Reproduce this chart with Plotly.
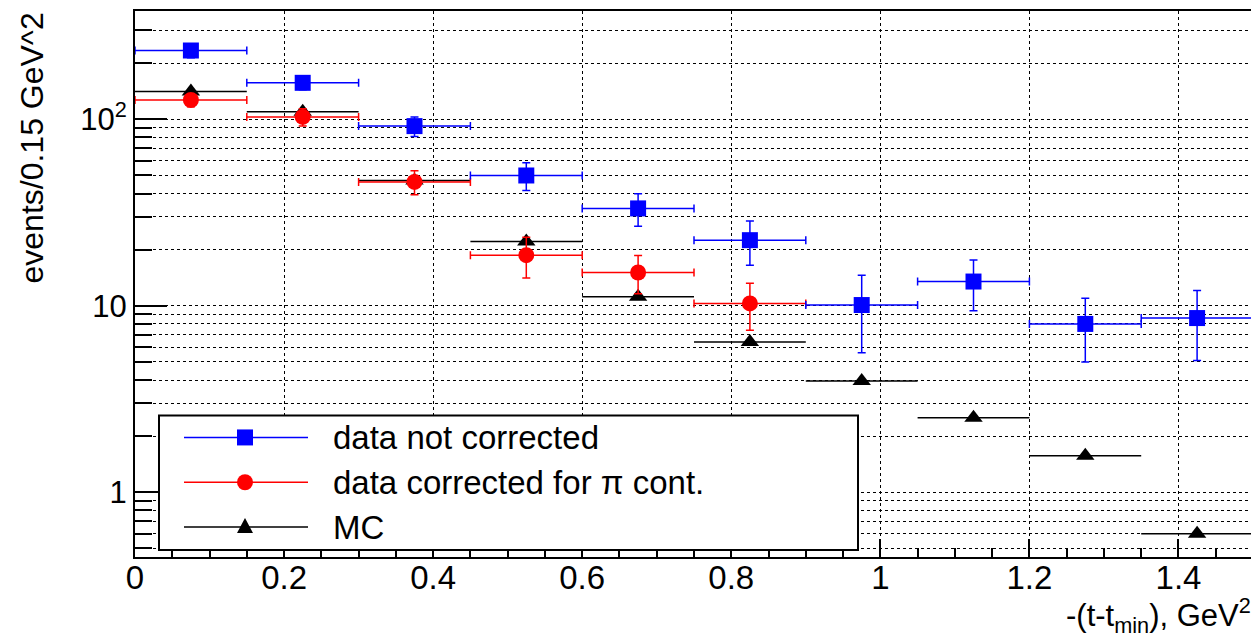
import plotly.graph_objects as go

# ---- data ----
x_centers = [0.075, 0.225, 0.375, 0.525, 0.675, 0.825, 0.975, 1.125, 1.275, 1.425]
x_halfwidth = [0.075] * 10

blue_vals = [234, 157, 92, 50, 33.3, 22.5, 10.1, 13.5, 8.0, 8.6]
blue_errs = [20, 13, 11, 8.5, 6.6, 6.0, 4.5, 4.1, 3.0, 3.5]

red_x = [0.075, 0.225, 0.375, 0.525, 0.675, 0.825]
red_vals = [127, 103, 46.2, 18.7, 15.1, 10.3]
red_errs = [10, 11, 6.8, 4.6, 3.5, 2.9]

mc_vals = [141, 110, 47, 22.1, 11.2, 6.4, 3.95, 2.51, 1.57, 0.6]

legend_labels = ["data not corrected", "data corrected for \u03c0 cont.", "MC"]

FONT = "Liberation Sans, Arial, Helvetica, sans-serif"

fig = go.Figure()

fig.add_trace(go.Scatter(
    x=x_centers, y=mc_vals, mode="markers",
    marker=dict(symbol="triangle-up", size=16, color="black"),
    error_x=dict(type="data", array=x_halfwidth, color="black", thickness=1.5, width=0),
    showlegend=False,
))
fig.add_trace(go.Scatter(
    x=red_x, y=red_vals, mode="markers",
    marker=dict(symbol="circle", size=16, color="#ff0000"),
    error_x=dict(type="data", array=x_halfwidth[:len(red_x)], color="#ff0000", thickness=1.5, width=4),
    error_y=dict(type="data", array=red_errs, color="#ff0000", thickness=1.5, width=4),
    showlegend=False,
))
fig.add_trace(go.Scatter(
    x=x_centers, y=blue_vals, mode="markers",
    marker=dict(symbol="square", size=16, color="#0000ff"),
    error_x=dict(type="data", array=x_halfwidth, color="#0000ff", thickness=1.5, width=4),
    error_y=dict(type="data", array=blue_errs, color="#0000ff", thickness=1.5, width=4),
    showlegend=False,
))

# ---- geometry (page has an 8px body margin) ----
OFF = 8
W, H = 1259 - OFF, 642 - OFF
ml, mr, mt, mb = 127, 6, 1, 85
pw, ph = W - ml - mr, H - mt - mb

def px_x(p):  # page pixel -> paper x
    return (p - OFF - ml) / pw

def px_y(p):  # page pixel -> paper y
    return (H - mb - (p - OFF)) / ph

# ---- manual ROOT-style legend ----
fig.add_shape(type="rect", xref="paper", yref="paper",
              x0=px_x(159), x1=px_x(858), y0=px_y(550), y1=px_y(415),
              line=dict(color="black", width=2), fillcolor="white", layer="above")

leg_rows = [437, 482, 527]
leg_colors = ["#0000ff", "#ff0000", "black"]
leg_x = px_x(245)
for ry, col, lab in zip(leg_rows, leg_colors, legend_labels):
    fig.add_shape(type="line", xref="paper", yref="paper",
                  x0=px_x(184), x1=px_x(308), y0=px_y(ry), y1=px_y(ry),
                  line=dict(color=col, width=1.5), layer="above")
    fig.add_annotation(xref="paper", yref="paper", x=px_x(331), y=px_y(ry),
                       text=lab, showarrow=False, xanchor="left", yanchor="middle",
                       font=dict(size=33, color="black", family=FONT))

# legend marker samples (pixel-sized shapes)
common = dict(xref="paper", yref="paper", xsizemode="pixel", ysizemode="pixel",
              layer="above", line=dict(width=0))
fig.add_shape(type="rect", xanchor=leg_x, yanchor=px_y(leg_rows[0]),
              x0=-8, x1=8, y0=-8, y1=8, fillcolor=leg_colors[0], **common)
fig.add_shape(type="circle", xanchor=leg_x, yanchor=px_y(leg_rows[1]),
              x0=-8, x1=8, y0=-8, y1=8, fillcolor=leg_colors[1], **common)
fig.add_shape(type="path", xanchor=leg_x, yanchor=px_y(leg_rows[2]),
              path="M -8,-6 L 8,-6 L 0,9 Z", fillcolor=leg_colors[2], **common)

minor_y = [0.5, 0.6, 0.7, 0.8, 0.9, 2, 3, 4, 5, 6, 7, 8, 9,
           20, 30, 40, 50, 60, 70, 80, 90, 200, 300]

fig.update_layout(
    width=W, height=H,
    margin=dict(l=ml, r=mr, t=mt, b=mb),
    paper_bgcolor="white", plot_bgcolor="white",
    font=dict(family=FONT, color="black", size=26),
    showlegend=False,
    xaxis=dict(
        range=[0, 1.5], dtick=0.2, tick0=0,
        ticks="inside", ticklen=18, tickwidth=2, tickcolor="black",
        showline=True, linecolor="black", linewidth=2, mirror=True,
        showgrid=True, gridcolor="black", griddash="dot", gridwidth=1.2,
        zeroline=False,
        tickfont=dict(size=33, family=FONT),
        ticklabelstandoff=-10,
        minor=dict(dtick=0.05, tick0=0, ticks="inside", ticklen=9, tickwidth=2,
                   tickcolor="black", showgrid=False),
    ),
    yaxis=dict(
        type="log", range=[-0.3467, 2.581],
        tickmode="array", tickvals=[1, 10, 100], ticktext=["1", "10", "10<sup>2</sup>"],
        ticks="inside", ticklen=32, tickwidth=2, tickcolor="black",
        showline=True, linecolor="black", linewidth=2, mirror=True,
        showgrid=True, gridcolor="black", griddash="dot", gridwidth=1.2,
        zeroline=False,
        tickfont=dict(size=31, family=FONT),
        minor=dict(tickmode="array", tickvals=minor_y, ticks="inside", ticklen=17,
                   tickwidth=2, tickcolor="black", showgrid=True,
                   gridcolor="black", griddash="dot", gridwidth=1.2),
    ),
)

# axis titles (ROOT style, aligned to axis ends)
fig.add_annotation(xref="paper", yref="paper", x=px_x(1253), y=px_y(616),
                   text="-(t-t<sub>min</sub>), GeV<sup>2</sup>", showarrow=False,
                   xanchor="right", yanchor="middle",
                   font=dict(size=31, family=FONT, color="black"))
fig.add_annotation(xref="paper", yref="paper", x=px_x(31), y=px_y(9),
                   text="events/0.15 GeV^2", showarrow=False, textangle=-90,
                   xanchor="center", yanchor="top",
                   font=dict(size=32, family=FONT, color="black"))

fig.write_html("out.html")
